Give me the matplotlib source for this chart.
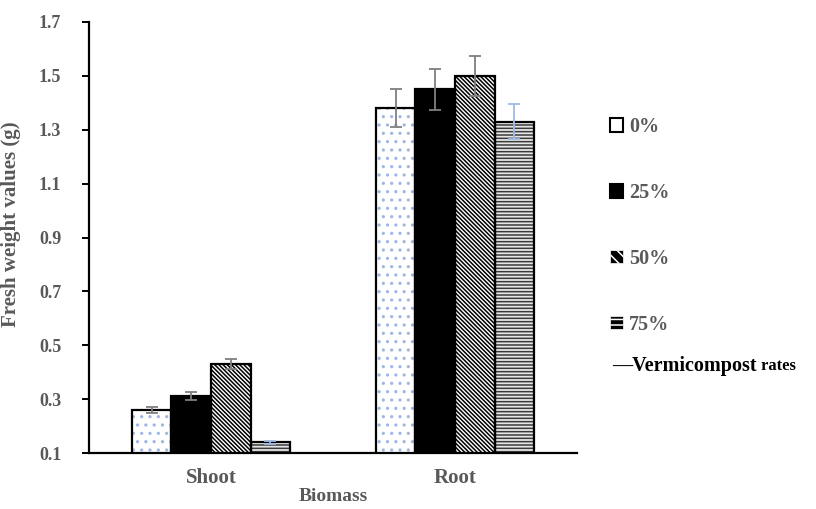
import matplotlib
matplotlib.use("Agg")
import matplotlib.pyplot as plt
from matplotlib.patches import Patch
import numpy as np

plt.rcParams["font.family"] = ["Liberation Serif", "DejaVu Serif"]
plt.rcParams["hatch.linewidth"] = 1.1

# Data
categories = ["Shoot", "Root"]
rates = ["0%", "25%", "50%", "75%"]
values = {
    "0%": [0.26, 1.38],
    "25%": [0.31, 1.45],
    "50%": [0.43, 1.50],
    "75%": [0.14, 1.33],
}
errors = {
    "0%": [0.010, 0.070],
    "25%": [0.015, 0.075],
    "50%": [0.020, 0.075],
    "75%": [0.005, 0.065],
}
yticks = [0.1, 0.3, 0.5, 0.7, 0.9, 1.1, 1.3, 1.5, 1.7]

# Styles per rate: face colour, hatch colour, hatch pattern, error-bar colour
styles = {
    "0%": dict(face="white", hcol="#9fb6e3", hatch="..", ecol="#7f7f7f"),
    "25%": dict(face="black", hcol="black", hatch=None, ecol="#7f7f7f"),
    "50%": dict(face="white", hcol="black", hatch="\\" * 8, ecol="#7f7f7f"),
    "75%": dict(face="#e6e6e6", hcol="#3a3a3a", hatch="-----", ecol="#9dbbe3"),
}

GRAY = "#595959"

fig = plt.figure(figsize=(8.16, 5.09), dpi=100)
ax = fig.add_axes([89 / 816, 1 - 453 / 509, (577 - 89) / 816, (453 - 22) / 509])

x = np.arange(len(categories)) + 0.5
width = 0.162
offsets = (np.arange(len(rates)) - 1.5) * width

for off, r in zip(offsets, rates):
    st = styles[r]
    # filled/hatched body
    ax.bar(x + off, values[r], width, color=st["face"], edgecolor=st["hcol"],
           hatch=st["hatch"], linewidth=0, zorder=2)
    # outline
    ax.bar(x + off, values[r], width, fill=False, edgecolor="black",
           linewidth=1.6, zorder=3)
    ax.errorbar(x + off, values[r], yerr=errors[r], fmt="none",
                ecolor=st["ecol"], elinewidth=1.3, capsize=4, capthick=1.3,
                zorder=4)

ax.set_xlim(0, 2)
ax.set_ylim(0.1, 1.7)
ax.set_yticks(yticks)
ax.set_yticklabels([f"{t:.1f}" for t in yticks])
ax.set_xticks(x)
ax.set_xticklabels(categories)

for s in ["top", "right"]:
    ax.spines[s].set_visible(False)
for s in ["left", "bottom"]:
    ax.spines[s].set_linewidth(1.6)
    ax.spines[s].set_color("black")

ax.tick_params(axis="y", direction="out", length=5, width=1.4, colors="black",
               labelcolor=GRAY, labelsize=13, pad=15)
ax.tick_params(axis="x", length=0, labelcolor=GRAY, labelsize=15, pad=11)
for lab in ax.get_yticklabels() + ax.get_xticklabels():
    lab.set_fontweight("bold")

ax.set_ylabel("Fresh weight values (g)", fontsize=15, fontweight="bold",
              color=GRAY)
ax.yaxis.set_label_coords(-0.139, 0.53)
ax.set_xlabel("Biomass", fontsize=14, fontweight="bold", color=GRAY)
ax.xaxis.set_label_coords(0.5, -0.082)

handles = [
    Patch(facecolor="white", edgecolor="black", linewidth=1.5),
    Patch(facecolor="black", edgecolor="black", linewidth=1.5),
    Patch(facecolor="black", edgecolor="white", hatch="\\\\\\", linewidth=0.5),
    Patch(facecolor="black", edgecolor="white", hatch="---", linewidth=0.5),
]
leg = fig.legend(handles, rates, loc="upper left",
                 bbox_to_anchor=(610 / 816, 1 - 117 / 509),
                 frameon=False, handlelength=0.65, handleheight=0.65,
                 handletextpad=0.3, labelspacing=2.28, borderpad=0,
                 borderaxespad=0,
                 prop=dict(family="Liberation Serif", weight="bold", size=14.5))
for t in leg.get_texts():
    t.set_color(GRAY)

t1 = fig.text(612 / 816, 1 - 366 / 509, "\u2014Vermicompost", fontsize=14.5,
              fontweight="bold", color="black", va="center", ha="left")
fig.canvas.draw()
ax.annotate(" rates", xy=(1, 0.12), xycoords=t1, va="bottom", ha="left",
            fontsize=12, fontweight="bold", color="black")

fig.savefig("out.png", dpi=100)
